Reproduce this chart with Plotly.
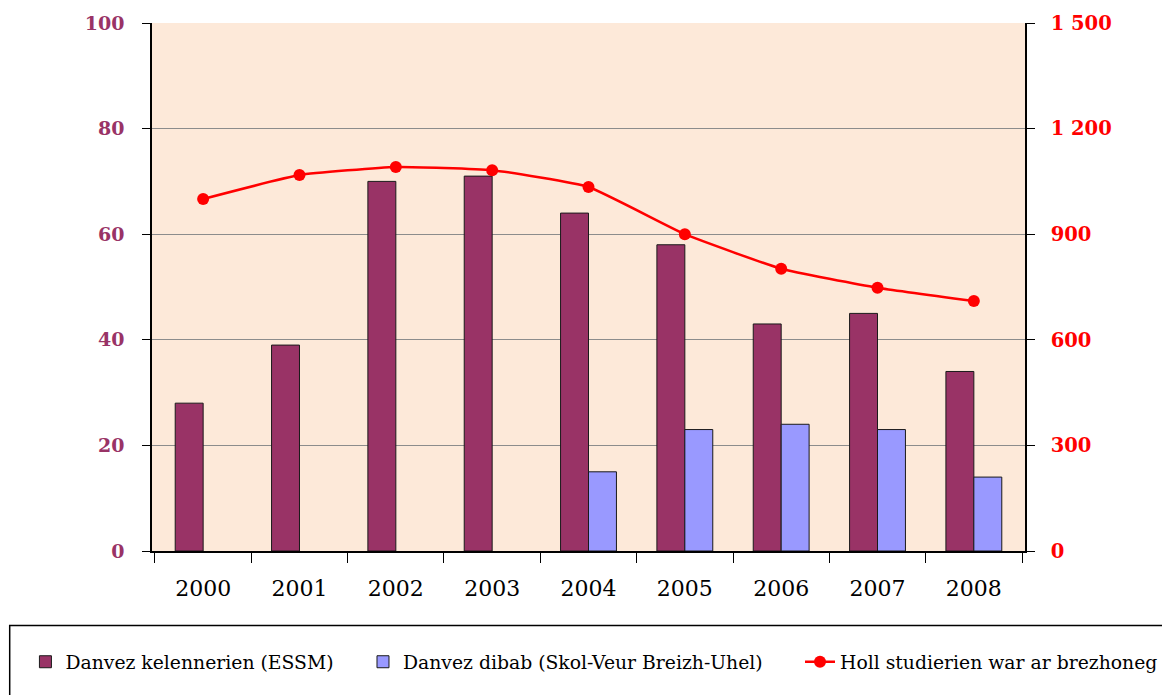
import plotly.graph_objects as go

years = ["2000", "2001", "2002", "2003", "2004", "2005", "2006", "2007", "2008"]
essm = [28, 39, 70, 71, 64, 58, 43, 45, 34]
dibab = [None, None, None, None, 15, 23, 24, 23, 14]
studierien = [1000, 1068, 1091, 1082, 1034, 900, 802, 748, 710]

left_ticks = [0, 20, 40, 60, 80, 100]
right_ticks = [0, 300, 600, 900, 1200, 1500]
right_text = ["0", "300", "600", "900", "1 200", "1 500"]

SERIF = "DejaVu Serif"

fig = go.Figure()
fig.add_trace(go.Bar(x=years, y=essm, name="Danvez kelennerien (ESSM)", legend="legend",
                     marker=dict(color="#993366", line=dict(color="#1a1a1a", width=1))))
fig.add_trace(go.Bar(x=years, y=dibab, name="Danvez dibab (Skol-Veur Breizh-Uhel)", legend="legend2",
                     marker=dict(color="#9999FF", line=dict(color="#1a1a1a", width=1))))
fig.add_trace(go.Scatter(x=years, y=studierien, name="Holl studierien war ar brezhoneg",
                         legend="legend3", yaxis="y2", mode="lines+markers",
                         line=dict(color="#FF0000", width=2.5, shape="spline", smoothing=0.4),
                         marker=dict(color="#FF0000", size=12)))

leg_common = dict(orientation="h", xref="container", yref="container", y=0.048,
                  xanchor="left", yanchor="middle", bgcolor="rgba(0,0,0,0)",
                  font=dict(size=18.8, family=SERIF, color="black"))

fig.update_layout(
    width=1162, height=687,
    margin=dict(l=144, r=145, t=15, b=144, autoexpand=False),
    paper_bgcolor="white",
    plot_bgcolor="#FDE9D9",
    barmode="group", bargap=0.42, bargroupgap=0,
    font=dict(family=SERIF, color="black"),
    xaxis=dict(type="category", showline=True, linecolor="black", linewidth=1.5,
               ticks="outside", tickson="boundaries", ticklen=10, tickcolor="black",
               ticklabelstandoff=17,
               tickfont=dict(size=22, family=SERIF, color="black"),
               showgrid=False),
    yaxis=dict(range=[0, 100], tickvals=left_ticks, showline=True, linecolor="black",
               linewidth=1.5, ticks="outside", ticklen=8, tickcolor="black",
               ticklabelstandoff=14,
               gridcolor="#8c8c8c", gridwidth=1, zeroline=False,
               tickfont=dict(size=19, family=SERIF, color="#993366", weight="bold")),
    yaxis2=dict(range=[0, 1500], tickvals=right_ticks, ticktext=right_text,
                overlaying="y", side="right", showline=True, linecolor="black",
                linewidth=1.5, ticks="outside", ticklen=8, tickcolor="black",
                ticklabelstandoff=12,
                showgrid=False, zeroline=False,
                tickfont=dict(size=19.5, family=SERIF, color="#FF0000", weight="bold")),
    legend=dict(x=0.015, **leg_common),
    legend2=dict(x=0.3055, **leg_common),
    legend3=dict(x=0.6816, **leg_common),
    showlegend=True,
)

fig.add_shape(type="rect", xref="paper", yref="paper",
              x0=-0.163, x1=1.2, y0=-0.141, y1=-0.3,
              line=dict(color="black", width=1.5), fillcolor="rgba(0,0,0,0)", layer="below")

fig.write_html("out.html")
